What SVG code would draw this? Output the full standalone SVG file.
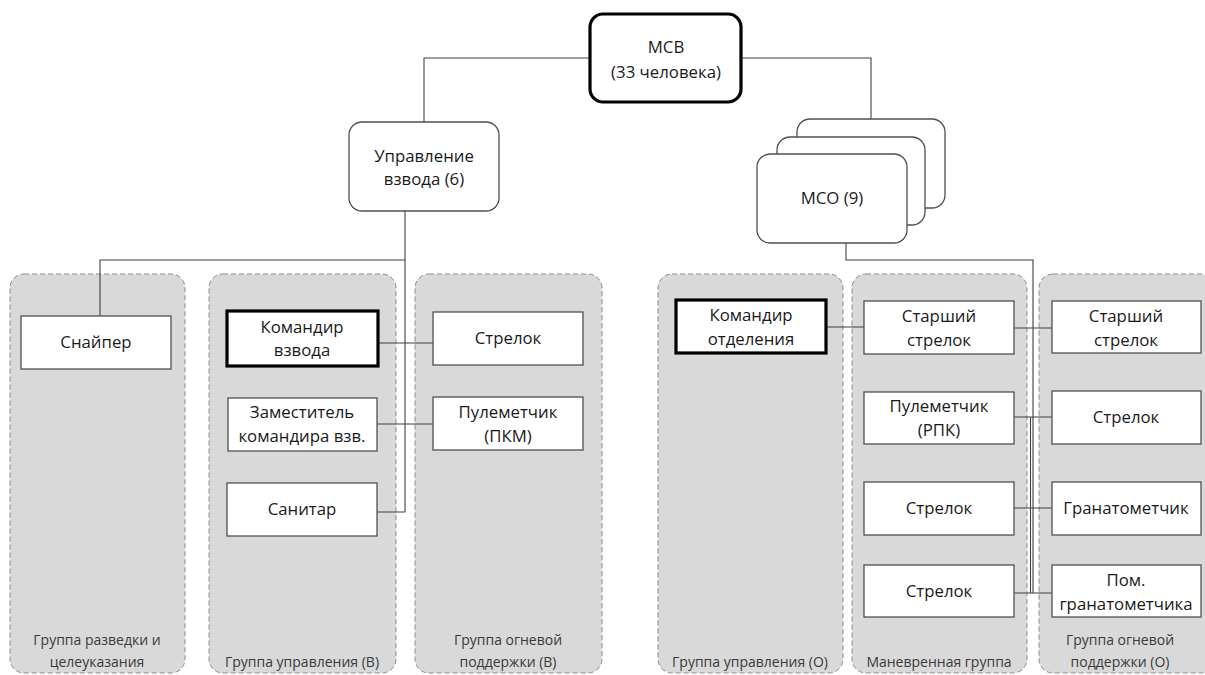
<svg xmlns="http://www.w3.org/2000/svg" width="1205" height="675" viewBox="0 0 1205 675">
<style>
.panel{fill:#d9d9d9;stroke:#8c8c8c;stroke-width:1;stroke-dasharray:5,3}
.box{fill:#fff;stroke:#505050;stroke-width:1.3}
.thick{fill:#fff;stroke:#000;stroke-width:3.2}
.rbox{fill:#fff;stroke:#505050;stroke-width:1.3}
.t{font-family:"Open Sans","Noto Sans",sans-serif;font-size:16.8px;fill:#1a1a1a;text-anchor:middle}
.lbl{font-family:"Open Sans","Noto Sans",sans-serif;font-size:14px;fill:#3a3a3a;text-anchor:middle}
.conn{fill:none;stroke:#404040;stroke-width:1.1}
</style>
<rect width="1205" height="675" fill="#fff"/>
<g id="panels">
<g id="panel-razvedka"><rect class="panel" x="10" y="274" width="175" height="399" rx="14"/><text class="lbl" x="97" y="645">Группа разведки и</text><text class="lbl" x="97" y="667">целеуказания</text></g>
<g id="panel-upr-v"><rect class="panel" x="209" y="274" width="187" height="399" rx="14"/><text class="lbl" x="302" y="667">Группа управления (В)</text></g>
<g id="panel-ogn-v"><rect class="panel" x="415" y="274" width="187" height="399" rx="14"/><text class="lbl" x="508" y="645">Группа огневой</text><text class="lbl" x="508" y="667">поддержки (В)</text></g>
<g id="panel-upr-o"><rect class="panel" x="658" y="274" width="185" height="399" rx="14"/><text class="lbl" x="750" y="667">Группа управления (О)</text></g>
<g id="panel-manevr"><rect class="panel" x="852" y="274" width="175" height="399" rx="14"/><text class="lbl" x="939" y="667">Маневренная группа</text></g>
<g id="panel-ogn-o"><rect class="panel" x="1039" y="274" width="176" height="399" rx="14"/><text class="lbl" x="1120" y="645">Группа огневой</text><text class="lbl" x="1120" y="667">поддержки (О)</text></g>
</g>
<g id="connectors">
<polyline class="conn" points="590,58 424,58 424,122"/>
<polyline class="conn" points="741,58 871,58 871,119"/>
<polyline class="conn" points="405,211 405,512 377,512"/>
<polyline class="conn" points="405,260 100,260 100,316"/>
<line class="conn" x1="378" y1="343" x2="433" y2="343"/>
<line class="conn" x1="377" y1="424" x2="433" y2="424"/>
<polyline class="conn" points="846,243 846,260 1033,260 1033,593"/>
<line class="conn" x1="1030.5" y1="417" x2="1030.5" y2="593"/>
<line class="conn" x1="826" y1="327" x2="864" y2="327"/>
<line class="conn" x1="1014" y1="328" x2="1052" y2="328"/>
<line class="conn" x1="1014" y1="417" x2="1052" y2="417"/>
<line class="conn" x1="1014" y1="508" x2="1052" y2="508"/>
<line class="conn" x1="1014" y1="593" x2="1052" y2="593"/>
</g>
<g id="msv"><rect class="thick" x="590" y="14" width="151" height="88" rx="13"/><text class="t" x="666" y="53">МСВ</text><text class="t" x="666" y="78">(33 человека)</text></g>
<g id="upr-vzvoda"><rect class="rbox" x="349" y="122" width="150" height="89" rx="13"/><text class="t" x="424" y="162">Управление</text><text class="t" x="424" y="185">взвода (6)</text></g>
<g id="mso">
<rect class="rbox" x="797" y="119" width="148" height="89" rx="13"/>
<rect class="rbox" x="777" y="137" width="148" height="88" rx="13"/>
<rect class="rbox" x="757" y="154" width="150" height="89" rx="13"/>
<text class="t" x="832" y="204">МСО (9)</text>
</g>
<g id="snajper"><rect class="box" x="21" y="316" width="150" height="53"/><text class="t" x="96" y="348">Снайпер</text></g>
<g id="komandir-vzvoda"><rect class="thick" x="227" y="311" width="151" height="55"/><text class="t" x="302" y="333">Командир</text><text class="t" x="302" y="356">взвода</text></g>
<g id="zamestitel"><rect class="box" x="228" y="398" width="149" height="53"/><text class="t" x="302" y="418">Заместитель</text><text class="t" x="302" y="442">командира взв.</text></g>
<g id="sanitar"><rect class="box" x="227" y="483" width="150" height="53"/><text class="t" x="302" y="515">Санитар</text></g>
<g id="strelok-v"><rect class="box" x="433" y="312" width="150" height="53"/><text class="t" x="508" y="344">Стрелок</text></g>
<g id="pulemetchik-pkm"><rect class="box" x="433" y="397" width="150" height="53"/><text class="t" x="508" y="418">Пулеметчик</text><text class="t" x="508" y="442">(ПКМ)</text></g>
<g id="komandir-otd"><rect class="thick" x="676" y="300" width="150" height="53"/><text class="t" x="751" y="321">Командир</text><text class="t" x="751" y="345">отделения</text></g>
<g id="starshij-1"><rect class="box" x="864" y="301" width="150" height="53"/><text class="t" x="939" y="322">Старший</text><text class="t" x="939" y="346">стрелок</text></g>
<g id="pulemetchik-rpk"><rect class="box" x="864" y="392" width="150" height="52"/><text class="t" x="939" y="412">Пулеметчик</text><text class="t" x="939" y="436">(РПК)</text></g>
<g id="strelok-m1"><rect class="box" x="864" y="482" width="150" height="53"/><text class="t" x="939" y="514">Стрелок</text></g>
<g id="strelok-m2"><rect class="box" x="864" y="565" width="150" height="52"/><text class="t" x="939" y="597">Стрелок</text></g>
<g id="starshij-2"><rect class="box" x="1052" y="301" width="149" height="52"/><text class="t" x="1126" y="322">Старший</text><text class="t" x="1126" y="346">стрелок</text></g>
<g id="strelok-o"><rect class="box" x="1052" y="391" width="149" height="53"/><text class="t" x="1126" y="423">Стрелок</text></g>
<g id="granatometchik"><rect class="box" x="1052" y="482" width="149" height="53"/><text class="t" x="1126" y="514">Гранатометчик</text></g>
<g id="pom-granatometchika"><rect class="box" x="1052" y="565" width="149" height="52"/><text class="t" x="1126" y="586">Пом.</text><text class="t" x="1126" y="610">гранатометчика</text></g>
</svg>
